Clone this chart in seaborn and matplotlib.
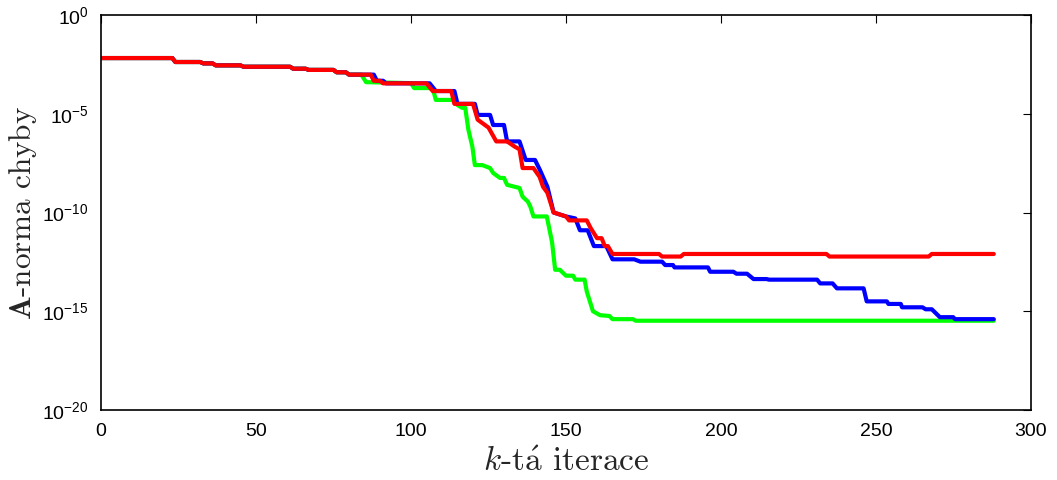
import numpy as np
import pandas as pd
import matplotlib
matplotlib.use("Agg")
import matplotlib.pyplot as plt
import seaborn as sns

# iteration breakpoints and log10 of the A-norm of the error
red_k = [0, 23, 24, 32, 33, 36, 37, 45, 46, 61, 62, 66, 67, 75, 76, 79, 80, 87, 88, 90, 91, 105, 107, 113,
         114, 120, 121.5, 125, 127.5, 131, 133.5, 135, 136, 139.5, 141.5, 142.6, 144, 146, 150, 151, 156.7,
         158, 160, 161.5, 162.5, 163.5, 165, 180, 181, 187, 188, 234, 235, 267, 268, 288]
red_log = [-2.18, -2.18, -2.38, -2.38, -2.45, -2.45, -2.55, -2.55, -2.62, -2.62, -2.72, -2.72, -2.78, -2.78,
           -2.9, -2.9, -3.02, -3.02, -3.33, -3.33, -3.46, -3.46, -3.85, -3.85, -4.5, -4.5, -5.3, -5.7, -6.4,
           -6.4, -6.67, -6.8, -7.75, -7.75, -8.2, -8.7, -9.0, -10.0, -10.2, -10.4, -10.4, -10.8, -11.3, -11.3,
           -11.7, -11.7, -12.1, -12.1, -12.23, -12.23, -12.1, -12.1, -12.23, -12.23, -12.1, -12.1]

blue_k = [0, 23, 24, 32, 33, 36, 37, 45, 46, 61, 62, 66, 67, 75, 76, 79, 80, 88, 89, 91, 92, 106, 108, 114,
          115, 120.6, 121.5, 125.5, 126.5, 130, 131, 135, 137, 140, 141.6, 144, 146, 150, 153, 154.5, 157,
          159, 163, 165, 172, 174, 181, 182, 184.5, 185, 195.8, 196.5, 204, 205, 208.4, 210.5, 214.7, 215.5,
          231, 232, 236, 237.4, 246, 247, 253.5, 254, 258, 258.4, 265, 266, 268, 270.6, 274.9, 275.5, 288]
blue_log = [-2.18, -2.18, -2.38, -2.38, -2.45, -2.45, -2.55, -2.55, -2.62, -2.62, -2.72, -2.72, -2.78, -2.78,
            -2.9, -2.9, -3.02, -3.02, -3.33, -3.33, -3.46, -3.46, -3.85, -3.85, -4.5, -4.5, -5.06, -5.06,
            -5.57, -5.57, -6.4, -6.4, -7.34, -7.34, -7.85, -8.7, -10.0, -10.2, -10.3, -10.9, -10.9, -11.7,
            -11.7, -12.37, -12.37, -12.49, -12.49, -12.66, -12.66, -12.78, -12.78, -13.0, -13.0, -13.1, -13.1,
            -13.37, -13.37, -13.4, -13.4, -13.59, -13.59, -13.84, -13.84, -14.5, -14.5, -14.63, -14.63, -14.8,
            -14.8, -14.9, -14.9, -15.3, -15.3, -15.4, -15.4]

green_k = [0, 23, 24, 32, 33, 36, 37, 45, 46, 61, 62, 66, 67, 75, 76, 79, 80, 84, 85.5, 100, 101, 107, 108,
           114, 115, 116.5, 117.5, 118.5, 119.8, 120.6, 123, 125.5, 126.5, 128.7, 130, 131, 135, 136, 137.7,
           138.5, 139.5, 143.8, 145.5, 146.5, 148, 150, 152.3, 153, 156, 156.7, 158.7, 161, 164, 165, 171.6,
           172.5, 288]
green_log = [-2.18, -2.18, -2.38, -2.38, -2.45, -2.45, -2.55, -2.55, -2.62, -2.62, -2.72, -2.72, -2.78, -2.78,
             -2.9, -2.9, -3.02, -3.02, -3.4, -3.45, -3.7, -3.7, -4.3, -4.3, -4.56, -4.7, -4.7, -5.8, -6.67,
             -7.6, -7.6, -7.75, -8.0, -8.25, -8.25, -8.6, -8.76, -9.2, -9.45, -9.7, -10.2, -10.2, -11.5, -12.9,
             -12.9, -13.2, -13.2, -13.4, -13.4, -14.0, -15.0, -15.2, -15.24, -15.4, -15.4, -15.48, -15.48]

x_ticks = [0, 50, 100, 150, 200, 250, 300]
y_ticks = [1e-20, 1e-15, 1e-10, 1e-5, 1e0]

frames = []
for name, ks, ls in [("green", green_k, green_log), ("blue", blue_k, blue_log), ("red", red_k, red_log)]:
    frames.append(pd.DataFrame({"k": ks, "err": 10.0 ** np.array(ls), "series": name}))
df = pd.concat(frames, ignore_index=True)

sns.set_theme(style="white")
plt.rcParams["font.family"] = ["Liberation Sans", "DejaVu Sans"]
plt.rcParams["mathtext.fontset"] = "cm"

fig = plt.figure(figsize=(10.57, 4.8), dpi=100)
ax = fig.add_axes([101 / 1057, 1 - 410 / 480, 930 / 1057, 395 / 480])

palette = {"green": "#00ff00", "blue": "#0000ff", "red": "#ff0000"}
sns.lineplot(data=df, x="k", y="err", hue="series", palette=palette, estimator=None, sort=False,
             linewidth=3.0, legend=False, ax=ax, hue_order=["green", "blue", "red"])

ax.set_yscale("log")
ax.set_xlim(0, 300)
ax.set_ylim(1e-20, 1e0)
ax.set_xticks(x_ticks)
ax.set_yticks(y_ticks)
ax.yaxis.set_minor_locator(matplotlib.ticker.NullLocator())
ax.tick_params(axis="both", which="major", direction="in", length=6, width=0.8, color="black",
               labelsize=14, top=True, right=True, labelcolor="black", pad=9)
for s in ax.spines.values():
    s.set_color("black")
    s.set_linewidth(1.2)

ax.set_xlabel(r"$k$-t$\acute{\mathrm{a}}$ iterace", fontfamily="cmr10", fontsize=24, labelpad=6)
ax.set_ylabel(r"$\mathbf{A}$-norma chyby", fontfamily="cmr10", fontsize=22.5, labelpad=2)

fig.savefig("out.png", dpi=100, facecolor="white")
